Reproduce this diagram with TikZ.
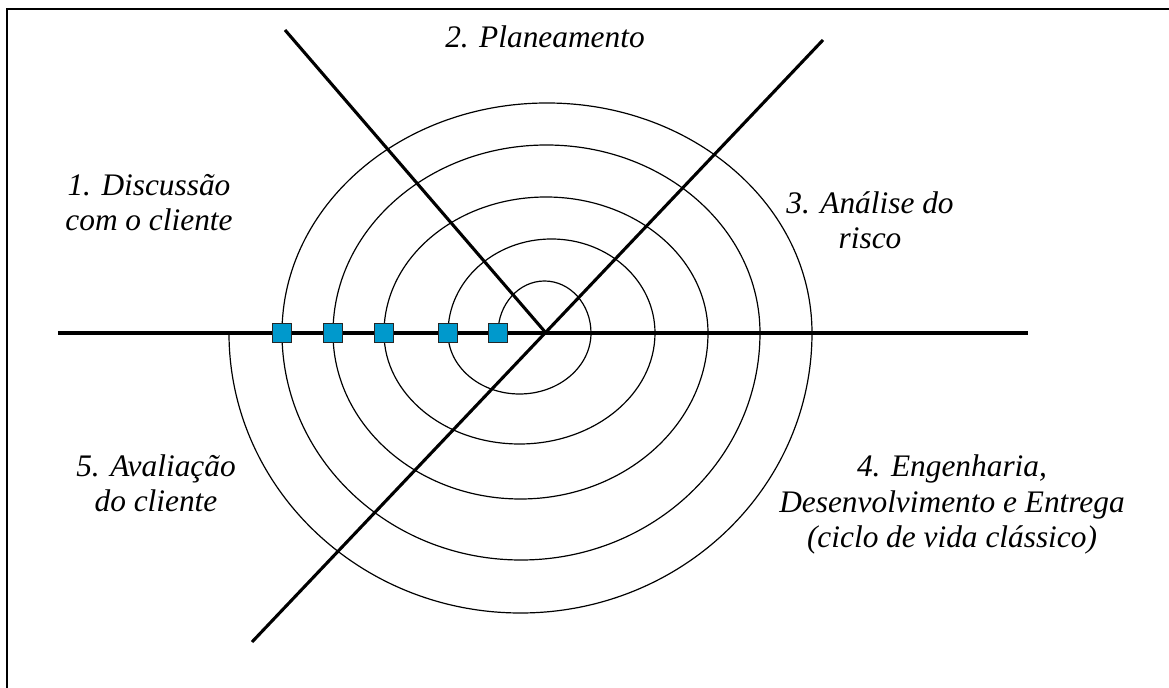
\documentclass[tikz,border=0pt]{standalone}
\usepackage{fontspec}
\setmainfont{Liberation Serif}
\usetikzlibrary{positioning}
\definecolor{markblue}{HTML}{0099CC}

\begin{document}
\begin{tikzpicture}[
    x=0.025cm, y=0.025cm,
    axis/.style={line width=2.2pt},
    spiral/.style={line width=0.85pt},
    marker/.style={rectangle, draw=black!85, line width=0.6pt, fill=markblue, minimum size=0.47cm, inner sep=0pt},
    phase/.style={font=\fontsize{22.3}{25.5}\selectfont\itshape, align=center, anchor=base, inner sep=0pt}
]
\useasboundingbox (-546,-355) rectangle (623,333);

% Frame
\draw[line width=1pt] (-539,-360) -- (-539,324) -- (630,324);

% Axes
\coordinate (O) at (0,0);
\coordinate (west) at (-488,0);
\coordinate (east) at (482,0);
\coordinate (nw) at (-261,303);
\coordinate (ne) at (277,293);
\coordinate (sw) at (-294,-309);
\draw[axis] (west) -- (east);
\draw[axis] (nw) -- (O);
\draw[axis] (ne) -- (sw);

% Spiral
\draw[spiral] (-48,0)
    arc[start angle=180, end angle=0, x radius=46.5, y radius=52]
    arc[start angle=0, end angle=-180, x radius=71.5, y radius=61]
    arc[start angle=180, end angle=0, x radius=103.5, y radius=94]
    arc[start angle=0, end angle=-180, x radius=135.5, y radius=111]
    arc[start angle=180, end angle=0, x radius=162, y radius=136]
    arc[start angle=0, end angle=-180, x radius=187.5, y radius=166]
    arc[start angle=180, end angle=0, x radius=213.5, y radius=188]
    arc[start angle=0, end angle=-180, x radius=239, y radius=227]
    arc[start angle=180, end angle=0, x radius=265, y radius=230]
    arc[start angle=0, end angle=-180, x radius=291.5, y radius=280];

% Markers
\node[marker] (m1) at (-264,0) {};
\node[marker] (m2) at (-213,0) {};
\node[marker] (m3) at (-162,0) {};
\node[marker] (m4) at (-98,0) {};
\node[marker] (m5) at (-48,0) {};

% Phases
\node[phase] (plan) at (-1,285) {2. Planeamento};
\node[phase] (disc) at (-397,102) {1. Discussão\\com o cliente};
\node[phase] (risk) at (324,84) {3. Análise do\\risco};
\node[phase] (eval) at (-390,-179) {5. Avaliação\\do cliente};
\node[phase] (eng) at (406,-215) {4. Engenharia,\\Desenvolvimento e Entrega\\(ciclo de vida clássico)};

\end{tikzpicture}
\end{document}
